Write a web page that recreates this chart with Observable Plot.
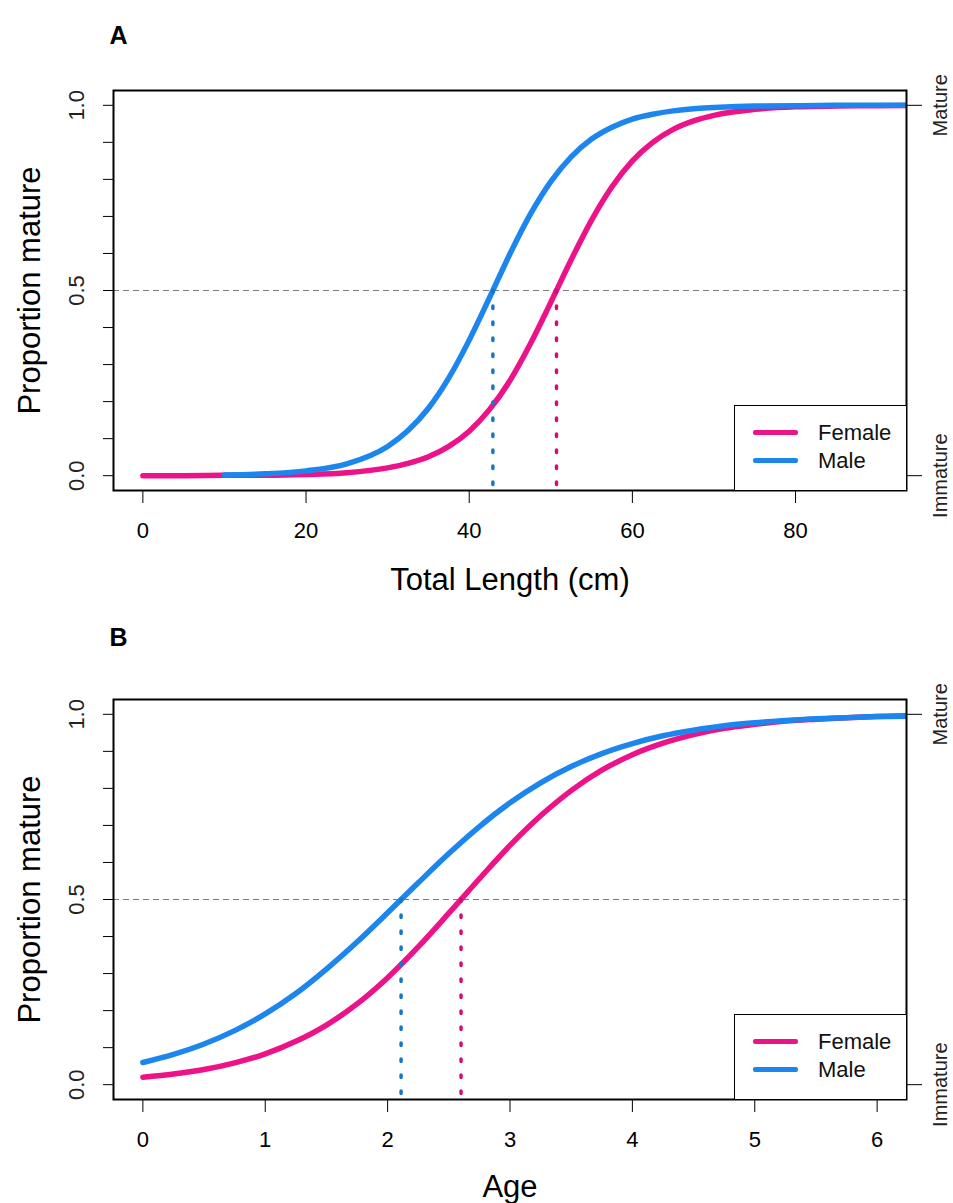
<!DOCTYPE html>
<html><head><meta charset="utf-8">
<script src="https://cdn.jsdelivr.net/npm/d3@7"></script>
<script src="https://cdn.jsdelivr.net/npm/@observablehq/plot@0.6"></script>
<style>
body{margin:0;background:#fff;font-family:"Liberation Sans",Arial,sans-serif;}
.panel{position:relative;width:953px;}
.panel svg{display:block;}
.legend{position:absolute;border:1px solid #000;background:#fff;box-sizing:border-box;}
.legend .row{position:absolute;left:0;height:28px;display:flex;align-items:center;}
.legend .sw{position:absolute;left:18px;width:45px;height:5px;border-radius:2px;}
.legend .lab{position:absolute;left:83px;font-size:22px;line-height:28px;color:#111;white-space:nowrap;}
</style></head><body>
<div id="A" class="panel"></div>
<div id="B" class="panel"></div>
<script>
// ---- Panel A: proportion mature by total length (cm)
const lengthFemale = [0,5,10,15,20,25,30,32.5,35,37.5,40,42.5,45,47.5,50,52.5,55,57.5,60,62.5,65,67.5,70,75,80,85,90,95];
const femaleByLength = [0.000,0.000,0.001,0.001,0.003,0.008,0.021,0.033,0.051,0.079,0.120,0.179,0.257,0.356,0.468,0.583,0.690,0.780,0.850,0.900,0.935,0.958,0.973,0.989,0.996,0.998,0.999,1.000];
const lengthMale = [10,15,20,25,30,32.5,35,37.5,40,42.5,45,47.5,50,52.5,55,57.5,60,62.5,65,67.5,70,75,80,85,90,95];
const maleByLength = [0.002,0.005,0.013,0.032,0.079,0.122,0.182,0.264,0.366,0.481,0.599,0.706,0.794,0.861,0.909,0.941,0.963,0.976,0.985,0.991,0.994,0.998,0.999,1.000,1.000,1.000];
const l50Length = {Female: 50.7, Male: 42.9};
const lengthTicks = [0,20,40,60,80];

// ---- Panel B: proportion mature by age
const ages = [0,0.25,0.5,0.75,1,1.25,1.5,1.75,2,2.25,2.5,2.75,3,3.25,3.5,3.75,4,4.25,4.5,4.75,5,5.25,5.5,5.75,6,6.25];
const femaleByAge = [0.020,0.029,0.041,0.059,0.083,0.117,0.161,0.218,0.289,0.372,0.463,0.556,0.646,0.726,0.794,0.849,0.891,0.922,0.945,0.962,0.973,0.982,0.987,0.991,0.994,0.996];
const maleByAge = [0.060,0.082,0.110,0.146,0.191,0.246,0.312,0.385,0.464,0.545,0.624,0.697,0.761,0.815,0.859,0.894,0.921,0.942,0.957,0.969,0.977,0.983,0.988,0.991,0.994,0.995];
const l50Age = {Female: 2.60, Male: 2.11};
const ageTicks = [0,1,2,3,4,5,6];

// ---- shared
const yTicks = [0,0.1,0.2,0.3,0.4,0.5,0.6,0.7,0.8,0.9,1.0];
const yTickLabels = [0, 0.5, 1.0];
const sideLabels = [{y: 0, label: "Immature"}, {y: 1, label: "Mature"}];
const sexes = ["Female", "Male"];
const lineColor = {Female: "#EE1289", Male: "#1C86EE"};
const dotColor = {Female: "#CD1076", Male: "#1874CD"};

function toRows(xs, ys) { return xs.map((x, i) => ({x, y: ys[i]})); }

function makePanel(el, o) {
  const H = o.height;
  const frameBottom = 490;
  const plot = Plot.plot({
    width: 953, height: H,
    marginLeft: 113, marginRight: 47, marginTop: o.marginTop, marginBottom: H - frameBottom,
    x: {domain: o.xDomain},
    y: {domain: [-0.04, 1.04]},
    style: {fontFamily: "'Liberation Sans', Arial, sans-serif", fontSize: "22px", color: "#000", background: "#fff", overflow: "visible"},
    marks: [
      Plot.ruleY([0.5], {stroke: "#7a7a7a", strokeWidth: 1.2, strokeDasharray: "6,4"}),
      Plot.line(o.female, {x: "x", y: "y", stroke: lineColor.Female, strokeWidth: 5.5, curve: "monotone-x", clip: true}),
      Plot.line(o.male, {x: "x", y: "y", stroke: lineColor.Male, strokeWidth: 5.5, curve: "monotone-x", clip: true}),
      Plot.ruleX(sexes.map(s => ({sex: s, x: o.l50[s]})), {x: "x", y1: 0.5, y2: -0.04, stroke: d => dotColor[d.sex], strokeWidth: 3.5, strokeDasharray: "2.5,13.5", strokeLinecap: "round"}),
      Plot.axisX({ticks: o.xTicks, tickSize: 13, tickPadding: 19, label: null, fontSize: 22, tickFormat: d => String(d)}),
      Plot.axisY({ticks: yTicks, tickSize: 10, tickFormat: () => "", label: null}),
      Plot.axisY({anchor: "right", ticks: [0, 1], tickSize: 15, tickFormat: () => "", label: null}),
      Plot.text(yTickLabels, {x: o.xDomain[0], y: d => d, text: d => d.toFixed(1), rotate: -90, dx: -37, fontSize: 22, fill: "#222", textAnchor: "middle", lineAnchor: "middle"}),
      Plot.text(sideLabels, {x: o.xDomain[1], y: "y", text: "label", rotate: -90, dx: 34, fontSize: 20, fill: "#222", textAnchor: "middle", lineAnchor: "middle"}),
      Plot.frame({stroke: "#000", strokeWidth: 2}),
      Plot.text([o.xLabel], {frameAnchor: "bottom", dy: o.xLabelDy, fontSize: 31, textAnchor: "middle", lineAnchor: "middle"}),
      Plot.text(["Proportion mature"], {frameAnchor: "left", dx: -83, rotate: -90, fontSize: 31, textAnchor: "middle", lineAnchor: "middle"}),
      Plot.text([o.letter], {frameAnchor: "top-left", dx: 5, dy: o.letterDy, fontSize: 25, fontWeight: "bold", textAnchor: "middle", lineAnchor: "middle"})
    ]
  });
  el.appendChild(plot);
  // legend (bottom-right of the plot box)
  const lg = document.createElement("div");
  lg.className = "legend";
  Object.assign(lg.style, {left: "734px", top: (o.marginTop + 315) + "px", width: "173px", height: "86px"});
  sexes.forEach((s, i) => {
    const row = document.createElement("div");
    row.className = "row";
    row.style.top = (13 + i * 28) + "px";
    const sw = document.createElement("div");
    sw.className = "sw"; sw.style.background = lineColor[s]; sw.style.top = "11px";
    const lab = document.createElement("div");
    lab.className = "lab"; lab.textContent = s; lab.style.top = "0px";
    row.appendChild(sw); row.appendChild(lab);
    lg.appendChild(row);
  });
  el.appendChild(lg);
}

makePanel(document.getElementById("A"), {
  letter: "A", height: 609, marginTop: 90, letterDy: -55,
  xDomain: [-3.6, 93.6], xTicks: lengthTicks, xLabel: "Total Length (cm)", xLabelDy: 90,
  female: toRows(lengthFemale, femaleByLength), male: toRows(lengthMale, maleByLength), l50: l50Length
});
makePanel(document.getElementById("B"), {
  letter: "B", height: 594, marginTop: 90, letterDy: -62,
  xDomain: [-0.24, 6.24], xTicks: ageTicks, xLabel: "Age", xLabelDy: 88,
  female: toRows(ages, femaleByAge), male: toRows(ages, maleByAge), l50: l50Age
});
</script>
</body></html>
